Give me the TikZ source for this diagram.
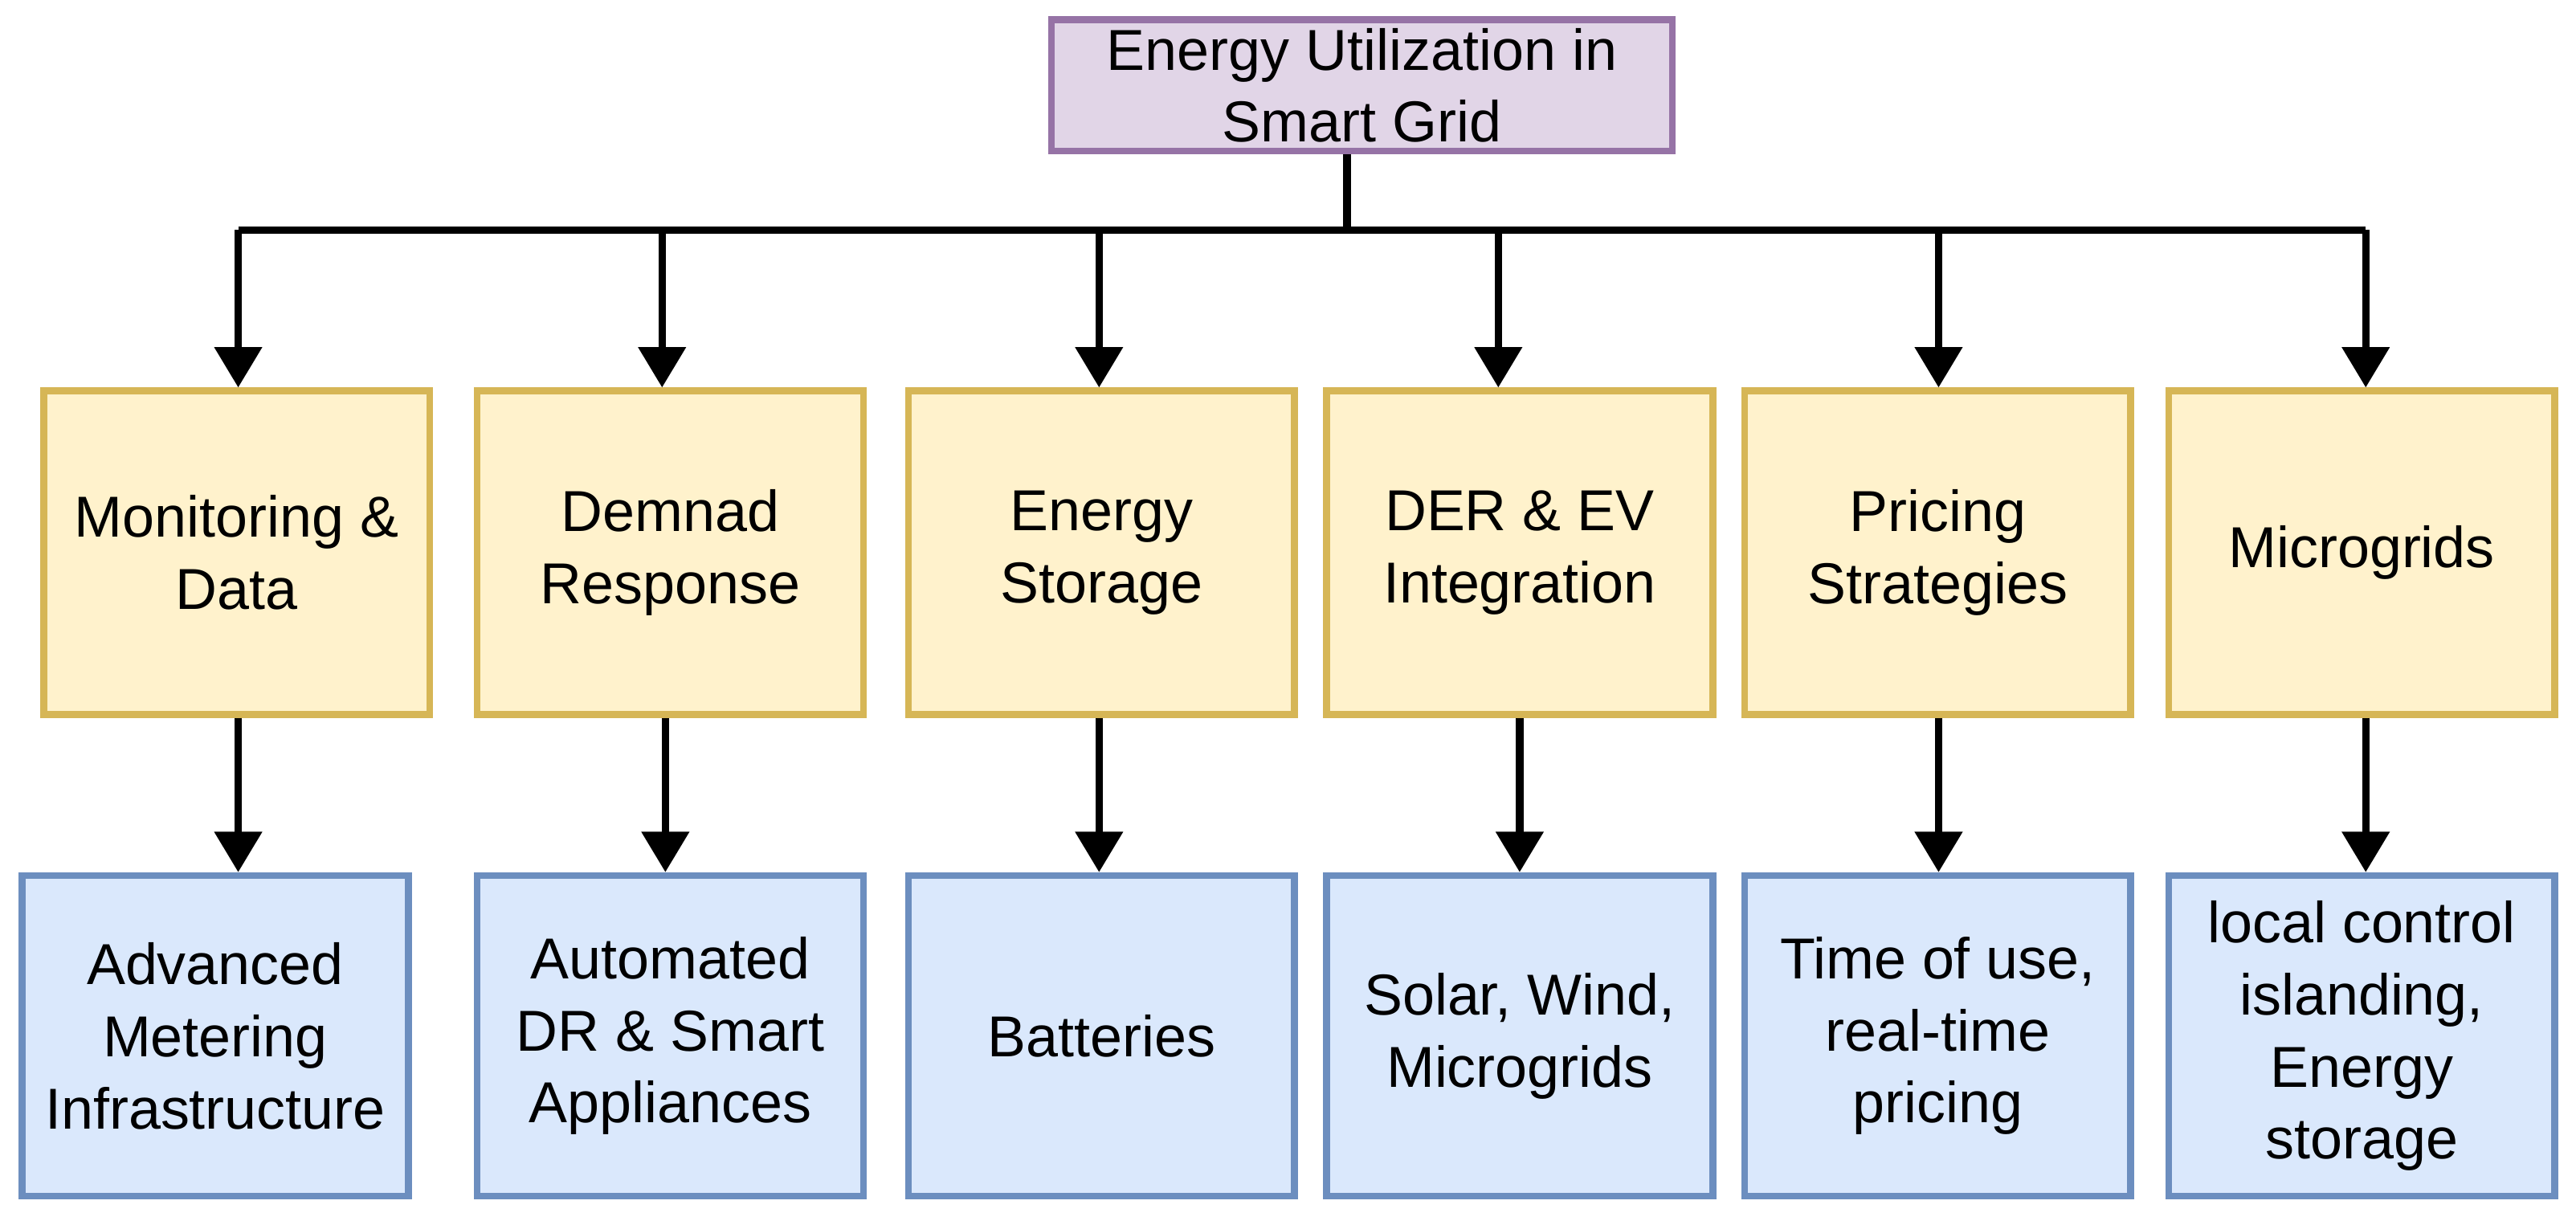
\documentclass[tikz,border=0pt]{standalone}
\usepackage{fontspec}
\setmainfont{Liberation Sans}
\usetikzlibrary{arrows.meta, positioning, calc}

\definecolor{rootfill}{HTML}{E1D5E7}
\definecolor{rootline}{HTML}{9673A6}
\definecolor{catfill}{HTML}{FFF2CC}
\definecolor{catline}{HTML}{D6B656}
\definecolor{leaffill}{HTML}{DAE8FC}
\definecolor{leafline}{HTML}{6C8EBF}

\tikzset{
  box/.style={draw, line width=1.2pt, align=center, inner sep=1pt,
    font=\fontsize{10}{12.5}\selectfont},
  root/.style={box, fill=rootfill, draw=rootline, minimum width=3.78cm, minimum height=0.8cm},
  cat/.style={box, fill=catfill, draw=catline, minimum width=2.35cm, minimum height=1.97cm},
  leaf/.style={box, fill=leaffill, draw=leafline, minimum width=2.35cm, minimum height=1.95cm},
  link/.style={line width=1.3pt, -{Triangle[length=7pt, width=8pt]}}
}

\begin{document}
\begin{tikzpicture}[>=Latex]
  % --- fixed frame
  \useasboundingbox (0,0) rectangle (15.68,-7.43);

  % --- Root
  \node[root] (root) at (8.29,-0.52) {Energy Utilization in\\Smart Grid};

  % --- Categories
  \node[cat] (mon) at (1.44,-3.365) {Monitoring \&\\Data};
  \node[cat] (dr)  at (4.08,-3.365) {Demnad\\Response};
  \node[cat] (sto) at (6.705,-3.365) {Energy\\Storage};
  \node[cat] (der) at (9.25,-3.365) {DER \& EV\\Integration};
  \node[cat] (pri) at (11.795,-3.365) {Pricing\\Strategies};
  \node[cat] (mic) at (14.375,-3.365) {Microgrids};

  % --- Leaves
  \node[leaf] (ami) at (1.31,-6.305) {Advanced\\Metering\\Infrastructure};
  \node[leaf] (adr) at (4.08,-6.305) {Automated\\DR \& Smart\\Appliances};
  \node[leaf] (bat) at (6.705,-6.305) {Batteries};
  \node[leaf] (swm) at (9.25,-6.305) {Solar, Wind,\\Microgrids};
  \node[leaf] (tou) at (11.795,-6.305) {Time of use,\\real-time\\pricing};
  \node[leaf] (loc) at (14.375,-6.305) {local control\\islanding,\\Energy\\storage};

  % --- Bus
  \coordinate (bus) at (8.2,-1.40);
  \coordinate (busL) at (1.45,-1.40);
  \coordinate (busR) at (14.40,-1.40);
  \draw[line width=1.3pt] (root.south -| bus) -- (bus);
  \draw[line width=1.3pt] (busL) -- (busR);
  \foreach \n/\x in {mon/1.45, dr/4.03, sto/6.69, der/9.12, pri/11.80, mic/14.40}
    \draw[link] (\x,-1.40) -- (\x,0 |- \n.north);

  % --- Category to leaf
  \foreach \a/\b/\x in {mon/ami/1.45, dr/adr/4.05, sto/bat/6.69, der/swm/9.25, pri/tou/11.80, mic/loc/14.40}
    \draw[link] (\x,0 |- \a.south) -- (\x,0 |- \b.north);
\end{tikzpicture}
\end{document}
